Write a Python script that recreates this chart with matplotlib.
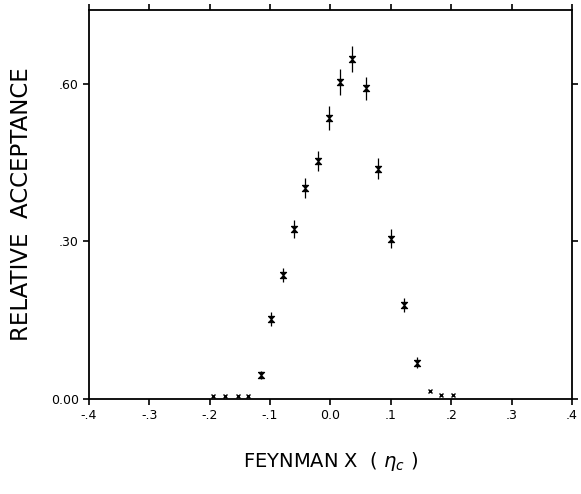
import matplotlib
matplotlib.use("Agg")
import matplotlib.pyplot as plt
import numpy as np

# Points with error bars
x_err_pts = [-0.114, -0.098, -0.078, -0.060, -0.042, -0.021, -0.003, 0.016,
             0.036, 0.059, 0.079, 0.101, 0.122, 0.144]
y_err_pts = [0.046, 0.152, 0.236, 0.323, 0.402, 0.452, 0.535, 0.603,
             0.647, 0.591, 0.438, 0.305, 0.179, 0.069]
e_err_pts = [0.008, 0.014, 0.014, 0.017, 0.019, 0.019, 0.023, 0.025,
             0.025, 0.022, 0.020, 0.018, 0.013, 0.010]

# Small crosses (no error bars)
x_cross = [-0.195, -0.174, -0.153, -0.136, 0.165, 0.183, 0.203]
y_cross = [0.005, 0.005, 0.005, 0.005, 0.016, 0.008, 0.008]

xticks = [-0.4, -0.3, -0.2, -0.1, 0.0, 0.1, 0.2, 0.3, 0.4]
xticklabels = ["-.4", "-.3", "-.2", "-.1", "0.0", ".1", ".2", ".3", ".4"]
yticks = [0.0, 0.30, 0.60]
yticklabels = ["0.00", ".30", ".60"]

fig = plt.figure(figsize=(5.81, 4.94), dpi=100)
ax = fig.add_axes([0.1527, 0.1923, 0.9845 - 0.1527, 0.9798 - 0.1923])

hourglass = [(-1, 1), (1, 1), (-1, -1), (1, -1), (-1, 1)]
ax.errorbar(x_err_pts, y_err_pts, yerr=e_err_pts, fmt='none', ecolor='black',
            elinewidth=0.9, capsize=0)
ax.plot(x_err_pts, y_err_pts, linestyle='none', marker=hourglass,
        markersize=4.5, color='black', markeredgewidth=0.8)
ax.plot(x_cross, y_cross, linestyle='none', marker='x', markersize=3.5,
        color='black', markeredgewidth=1.0)

ax.set_xlim(-0.4, 0.4)
ax.set_ylim(0.0, 0.74)
ax.set_xticks(xticks)
ax.set_xticklabels(xticklabels)
ax.set_yticks(yticks)
ax.set_yticklabels(yticklabels)
ax.tick_params(axis='both', direction='out', length=4, width=1.2,
               labelsize=9, top=True, right=True, pad=3)
for s in ax.spines.values():
    s.set_linewidth(1.3)

ax.set_ylabel("RELATIVE  ACCEPTANCE", fontsize=16.5, labelpad=13)
ax.set_xlabel(r"FEYNMAN X  ( $\eta_c$ )", fontsize=14, labelpad=20)

fig.savefig("out.png", dpi=100)
